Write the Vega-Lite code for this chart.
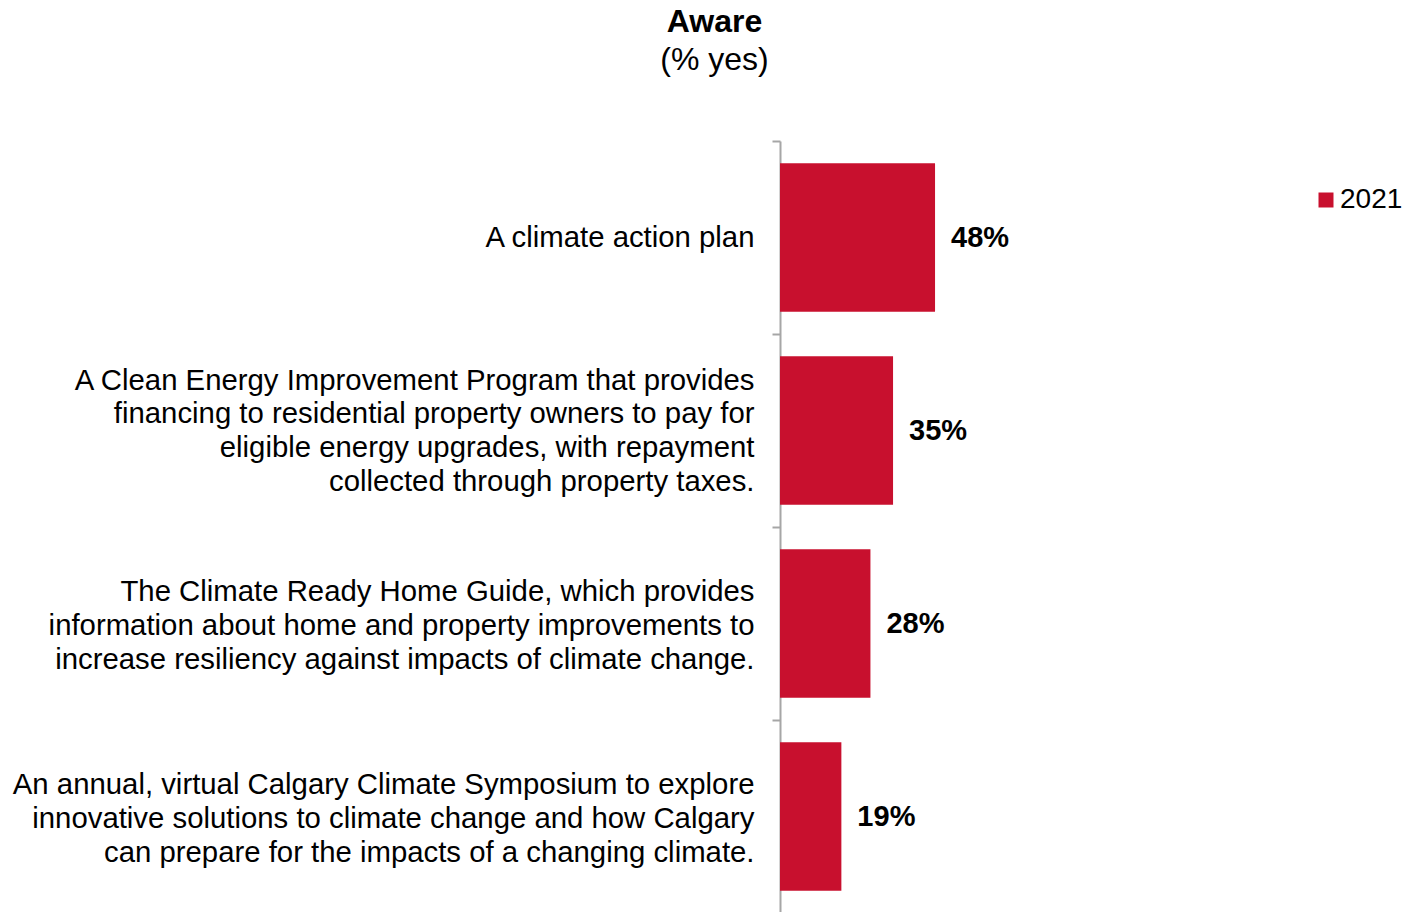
{
  "$schema": "https://vega.github.io/schema/vega-lite/v6.json",
  "autosize": {"type": "none"},
  "width": 323,
  "height": 772,
  "padding": {"left": 780, "top": 141, "right": 305, "bottom": 0},
  "background": "white",
  "title": {
    "text": "Aware",
    "subtitle": "(% yes)",
    "font": "Liberation Sans",
    "fontSize": 32,
    "fontWeight": "bold",
    "color": "black",
    "subtitleFont": "Liberation Sans",
    "subtitleFontSize": 32,
    "subtitleColor": "black",
    "subtitlePadding": 6,
    "anchor": "middle",
    "dx": -227,
    "offset": 50
  },
  "data": {
    "values": [
      {"item": "A climate action plan", "year": "2021", "value": 0.48},
      {"item": "A Clean Energy Improvement Program that provides|financing to residential property owners to pay for|eligible energy upgrades, with repayment|collected through property taxes.", "year": "2021", "value": 0.35},
      {"item": "The Climate Ready Home Guide, which provides|information about home and property improvements to|increase resiliency against impacts of climate change.", "year": "2021", "value": 0.28},
      {"item": "An annual, virtual Calgary Climate Symposium to explore|innovative solutions to climate change and how Calgary|can prepare for the impacts of a changing climate.", "year": "2021", "value": 0.19}
    ]
  },
  "encoding": {
    "y": {
      "field": "item",
      "type": "nominal",
      "sort": null,
      "scale": {"paddingInner": 0, "paddingOuter": 0},
      "axis": {
        "title": null,
        "labelExpr": "datum.value ? split(datum.value, '|') : ''",
        "labelFont": "Liberation Sans",
        "labelFontSize": 29.33,
        "labelColor": "black",
        "labelLineHeight": 33.7,
        "labelPadding": 18,
        "labelLimit": 1000,
        "labelOffset": {
          "condition": [
            {"test": "datum.value && length(split(datum.value, '|')) == 4", "value": -50.5},
            {"test": "datum.value && length(split(datum.value, '|')) == 3", "value": -31.7}
          ],
          "value": 0
        },
        "tickBand": "extent",
        "tickSize": 8,
        "tickColor": "#A6A6A6",
        "tickWidth": 2,
        "domainColor": "#A6A6A6",
        "domainWidth": 2,
        "grid": false
      }
    },
    "x": {
      "field": "value",
      "type": "quantitative",
      "scale": {"domain": [0, 1], "nice": false},
      "axis": null
    }
  },
  "layer": [
    {
      "mark": {"type": "bar", "height": {"band": 0.77}},
      "encoding": {
        "color": {
          "field": "year",
          "type": "nominal",
          "scale": {"range": ["#C8102E"]},
          "legend": {
            "title": null,
            "orient": "none",
            "legendX": 532,
            "legendY": 45,
            "symbolType": "square",
            "symbolSize": 225,
            "symbolStrokeWidth": 0,
            "labelFont": "Liberation Sans",
            "labelFontSize": 28,
            "labelColor": "black",
            "labelOffset": 0
          }
        }
      }
    },
    {
      "mark": {
        "type": "text",
        "align": "left",
        "baseline": "middle",
        "dx": 16,
        "font": "Liberation Sans",
        "fontSize": 29,
        "fontWeight": "bold",
        "color": "black"
      },
      "encoding": {
        "text": {"field": "value", "type": "quantitative", "format": ".0%"}
      }
    }
  ],
  "config": {
    "view": {"stroke": null}
  }
}
